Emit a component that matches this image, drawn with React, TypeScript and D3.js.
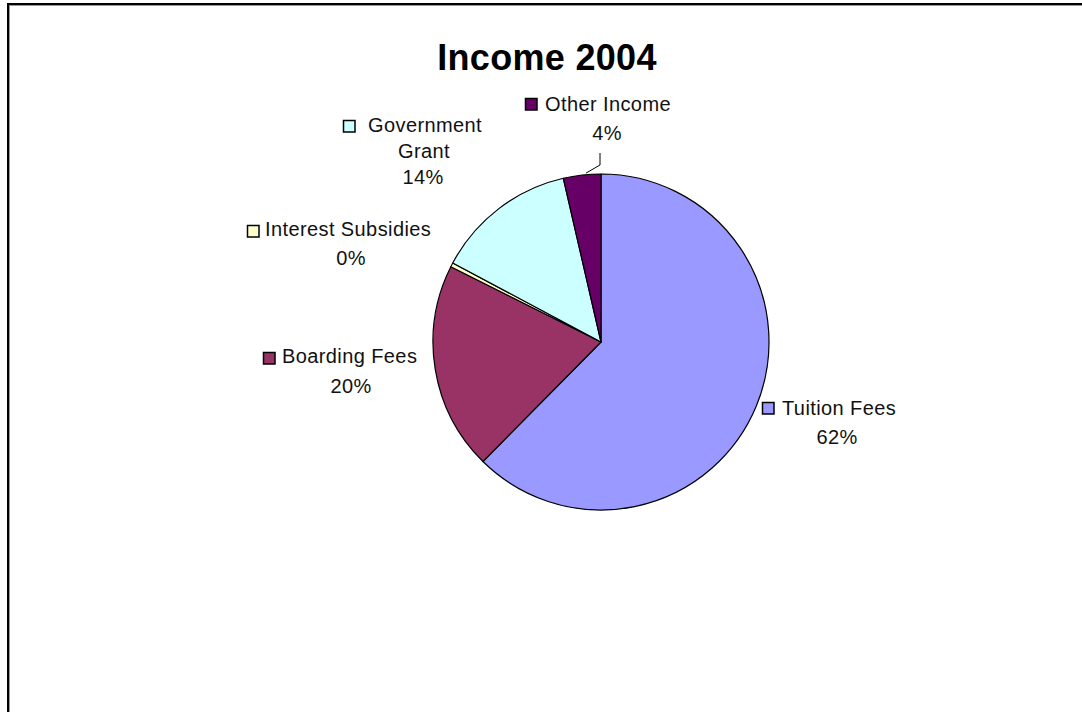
import React from "react";
import * as d3 from "d3";

const categories = ["Tuition Fees", "Boarding Fees", "Interest Subsidies", "Government Grant", "Other Income"];
const values = [62.4, 20.0, 0.4, 13.6, 3.6];
const colors = ["#9999FF", "#993366", "#FFFFCC", "#CCFFFF", "#660066"];
const title = "Income 2004";

// label layout (positions only)
const labelLayout = [
  { keyX: 762, keyY: 402, lines: ["Tuition Fees"], textX: 782, base: [415], pctX: 837, pctBase: 444 },
  { keyX: 263, keyY: 352, lines: ["Boarding Fees"], textX: 282, base: [363], pctX: 351, pctBase: 393 },
  { keyX: 247, keyY: 225, lines: ["Interest Subsidies"], textX: 265, base: [236], pctX: 351, pctBase: 265 },
  { keyX: 343, keyY: 120, lines: ["Government", "Grant"], textX: 368, base: [132, 158], pctX: 423, pctBase: 184, centerX: [null, 424] },
  { keyX: 525, keyY: 98, lines: ["Other Income"], textX: 545, base: [111], pctX: 607, pctBase: 140 },
];

export default function App() {
  const W = 1082, H = 712;
  const cx = 601, cy = 342, r = 168;
  const total = d3.sum(values);
  const pie = d3.pie<number>().sort(null).value((d) => d).startAngle(0).endAngle(2 * Math.PI);
  const arcs = pie(values);
  const arc = d3.arc<d3.PieArcDatum<number>>().innerRadius(0).outerRadius(r);
  const font = "'Liberation Sans', Arial, sans-serif";

  // leader line for Other Income
  const other = arcs[4];
  const mid = (other.startAngle + other.endAngle) / 2;
  const p0 = [cx + Math.sin(mid) * r, cy - Math.cos(mid) * r];
  const leader = d3.line()([
    [p0[0] + 4, p0[1] - 2],
    [600, 165],
    [600, 153],
  ] as [number, number][]);

  return (
    <svg width={W} height={H} style={{ position: "absolute", left: 0, top: 0 }} fontFamily={font}>
      <rect x={0} y={0} width={W} height={H} fill="#fff" />
      <rect x={8} y={4} width={W + 20} height={H + 20} fill="none" stroke="#000" strokeWidth={2} />
      <line x1={9.5} y1={5} x2={9.5} y2={H} stroke="#999" strokeWidth={1} />
      <line x1={9} y1={5.5} x2={W} y2={5.5} stroke="#999" strokeWidth={1} />
      <text x={547} y={70} textAnchor="middle" fontSize={36} fontWeight="bold" fill="#000" letterSpacing={0.3}>
        {title}
      </text>
      <g transform={`translate(${cx},${cy})`}>
        {arcs.map((a, i) => (
          <path key={categories[i]} d={arc(a) || ""} fill={colors[i]} stroke="#000" strokeWidth={1.2} strokeLinejoin="round" />
        ))}
      </g>
      <path d={leader || ""} fill="none" stroke="#000" strokeWidth={1} />
      {labelLayout.map((l, i) => (
        <g key={categories[i]} fontSize={20} fill="#111" letterSpacing={0.4}>
          <rect x={l.keyX + 0.5} y={l.keyY + 0.5} width={11.5} height={11.5} fill={colors[i]} stroke="#000" strokeWidth={1.5} />
          {l.lines.map((t, j) =>
            l.centerX && l.centerX[j] != null ? (
              <text key={j} x={l.centerX[j] as number} y={l.base[j]} textAnchor="middle">{t}</text>
            ) : (
              <text key={j} x={l.textX} y={l.base[j]}>{t}</text>
            )
          )}
          <text x={l.pctX} y={l.pctBase} textAnchor="middle">
            {Math.round((values[i] / total) * 100) + "%"}
          </text>
        </g>
      ))}
    </svg>
  );
}
